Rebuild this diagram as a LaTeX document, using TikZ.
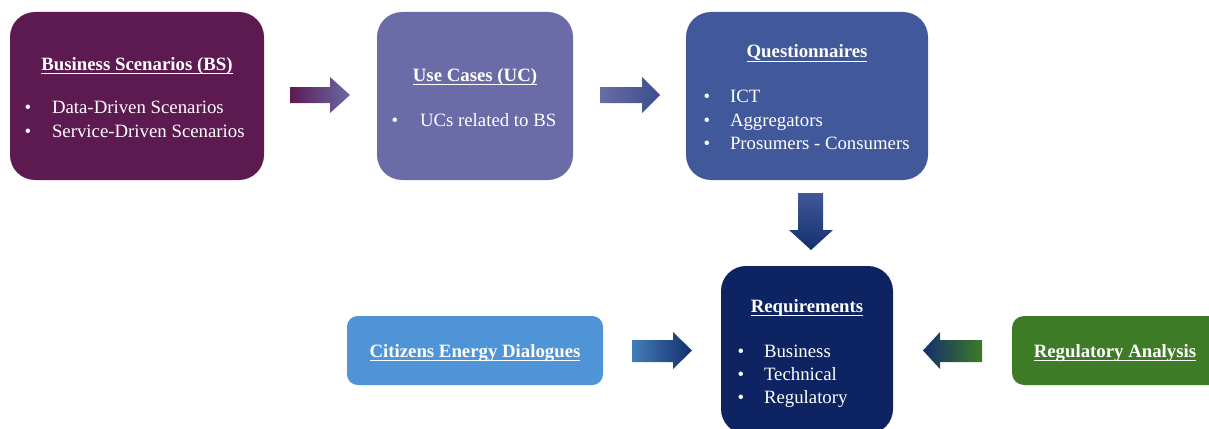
\documentclass[tikz,border=0pt]{standalone}
\usepackage{fontspec}
\setmainfont{Liberation Serif}
\usetikzlibrary{fit}

\definecolor{bsc}{RGB}{93,26,81}
\definecolor{ucc}{RGB}{106,107,167}
\definecolor{qsc}{RGB}{65,88,154}
\definecolor{rqc}{RGB}{14,36,98}
\definecolor{cedc}{RGB}{80,148,216}
\definecolor{regc}{RGB}{61,123,39}
\definecolor{navyend}{RGB}{20,46,108}

% underlined heading with a fixed rule below the baseline
\newcommand\titleline[1]{\sbox0{#1}\rlap{\rule[-3pt]{\wd0}{1pt}}\usebox0}

\begin{document}
\begin{tikzpicture}[x=0.75pt,y=-0.75pt,
  panel/.style={rounded corners=#1, inner sep=0pt, outer sep=0pt, draw=none},
  txt/.style={inner sep=0pt, outer sep=0pt, text=white,
    font=\fontsize{14.1pt}{17pt}\selectfont},
  head/.style={txt, anchor=base, font=\fontsize{14.1pt}{17pt}\selectfont\bfseries},
  dot/.style={txt, anchor=base},
  item/.style={txt, anchor=base west}]
\useasboundingbox (0,0) rectangle (1209,428);
\clip (0,0) rectangle (1209,428);

% panels
\node (bs)  [panel=18.75pt, fill=bsc,  fit={(10,12)(264,180)}] {};
\node (uc)  [panel=18.75pt, fill=ucc,  fit={(377,12)(573,180)}] {};
\node (qs)  [panel=18.75pt, fill=qsc,  fit={(686,12)(928,180)}] {};
\node (rq)  [panel=18.75pt, fill=rqc,  fit={(721,266)(893,434)}] {};
\node (ced) [panel=8pt,     fill=cedc, fit={(347,316)(603,385)}] {};
\node (reg) [panel=9pt,     fill=regc, fit={(1012,316)(1240,385)}] {};

% business scenarios
\node (bs-t) [head] at (137,70) {\titleline{Business Scenarios (BS)}};
\node (bs-d1) [dot] at (28,113.5) {•};
\node (bs-i1) [item] at (52,113.5) {Data-Driven Scenarios};
\node (bs-d2) [dot] at (28,137) {•};
\node (bs-i2) [item] at (52,137) {Service-Driven Scenarios};

% use cases
\node (uc-t) [head] at (475,81) {\titleline{Use Cases (UC)}};
\node (uc-d1) [dot] at (395,126) {•};
\node (uc-i1) [item] at (420,126) {UCs related to BS};

% questionnaires
\node (qs-t) [head] at (807,58) {\titleline{Questionnaires}};
\node (qs-d1) [dot] at (707,103) {•};
\node (qs-i1) [item] at (730,103) {ICT};
\node (qs-d2) [dot] at (707,126) {•};
\node (qs-i2) [item] at (730,126) {Aggregators};
\node (qs-d3) [dot] at (707,149) {•};
\node (qs-i3) [item] at (730,149) {Prosumers - Consumers};

% requirements
\node (rq-t) [head] at (807,312) {\titleline{Requirements}};
\node (rq-d1) [dot] at (741,357) {•};
\node (rq-i1) [item] at (764,357) {Business};
\node (rq-d2) [dot] at (741,380) {•};
\node (rq-i2) [item] at (764,380) {Technical};
\node (rq-d3) [dot] at (741,403) {•};
\node (rq-i3) [item] at (764,403) {Regulatory};

% side inputs
\node (ced-t) [head] at (475,357) {\titleline{Citizens Energy Dialogues}};
\node (reg-t) [head] at (1115,357) {\titleline{Regulatory Analysis}};

% block arrows
\shade[left color=bsc, right color=ucc]
  (290,87) -- (330,87) -- (330,77) -- (350,95) -- (330,113) -- (330,103) -- (290,103) -- cycle;
\shade[left color=ucc, right color=qsc!90!black]
  (600,87) -- (642,87) -- (642,77) -- (660,95) -- (642,113) -- (642,103) -- (600,103) -- cycle;
\shade[top color=qsc, bottom color=navyend]
  (798,193) -- (823,193) -- (823,230) -- (833,230) -- (811,250) -- (789,230) -- (798,230) -- cycle;
\shade[left color=cedc!85!black, right color=navyend]
  (632,340) -- (673,340) -- (673,332) -- (692,350.5) -- (673,369) -- (673,362) -- (632,362) -- cycle;
\shade[left color=navyend, right color=regc]
  (982,340) -- (940,340) -- (940,332) -- (923,350.5) -- (940,369) -- (940,362) -- (982,362) -- cycle;
\end{tikzpicture}
\end{document}
